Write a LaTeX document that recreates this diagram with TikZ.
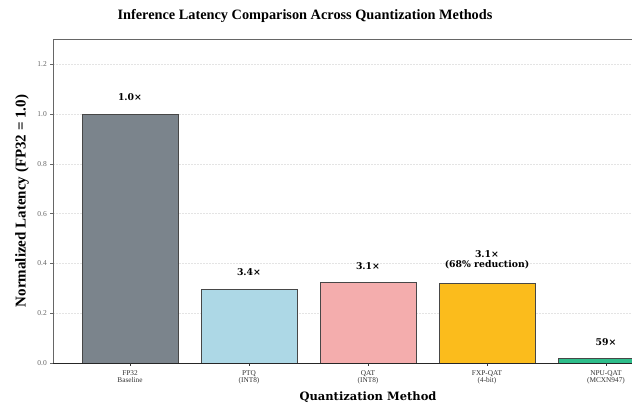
\documentclass[tikz,border=0pt]{standalone}
\usepackage{fontspec}
\setmainfont{Liberation Serif}
\newfontfamily\dvs{DejaVu Serif}
\definecolor{cfp}{HTML}{7B848C}
\definecolor{cptq}{HTML}{ADD8E6}
\definecolor{cqat}{HTML}{F4ADAD}
\definecolor{cfxp}{HTML}{FBBC1C}
\definecolor{cnpu}{HTML}{2EBD8A}
\definecolor{spine}{HTML}{666666}
\definecolor{ticklab}{HTML}{666666}
\definecolor{gridc}{HTML}{E4E4E4}
\tikzset{
  barbox/.style={draw=black!72, line width=0.8pt},
  gridline/.style={draw=gridc, dash pattern=on 1.5pt off 1.5pt, line width=0.5pt},
  ytick/.style={font=\fontsize{7.5}{8}\selectfont, text=ticklab, anchor=east, inner sep=1pt},
  xtick/.style={font=\fontsize{7.3}{7.8}\selectfont, text=black!80, align=center, inner sep=0pt, anchor=north},
  vlab/.style={font=\dvs\bfseries\fontsize{9.3}{10.5}\selectfont, align=center, inner sep=0pt},
}
\begin{document}
\begin{tikzpicture}[x=1pt,y=-1pt]
\useasboundingbox (0,0) rectangle (632,405);
\clip (0,0) rectangle (632,405);
\fill[white] (0,0) rectangle (632,405);
% grid
\foreach \v in {0.2,0.4,0.6,0.8,1.0,1.2}{
  \draw[gridline] (53,{363-249*\v}) -- (632,{363-249*\v});
}
% bars
\draw[barbox, fill=cfp]  (82,{363-249*1.0})   rectangle (178,363);
\draw[barbox, fill=cptq] (201,{363-249*0.294}) rectangle (297,363);
\draw[barbox, fill=cqat] (320,{363-249*0.323}) rectangle (416,363);
\draw[barbox, fill=cfxp] (439,{363-249*0.318}) rectangle (535,363);
\draw[barbox, fill=cnpu] (558,{363-249*0.017}) rectangle (654,363);
% spines
\draw[spine, line width=0.8pt] (53,363) -- (53,39) -- (640,39);
\draw[black!85, line width=0.8pt] (53,363) -- (640,363);
% y ticks
\foreach \v/\t in {0/0.0,0.2/0.2,0.4/0.4,0.6/0.6,0.8/0.8,1.0/1.0,1.2/1.2}{
  \draw[spine, line width=0.6pt] (53,{363-249*\v}) -- (50,{363-249*\v});
  \node[ytick] (yt\t) at (48,{363-249*\v}) {\t};
}
% x ticks
\foreach \i in {0,...,4}{
  \draw[black!80, line width=0.6pt] ({130+119*\i},363) -- ({130+119*\i},366);
}
\node[xtick] (x0) at (130,370) {FP32\\Baseline};
\node[xtick] (x1) at (249,370) {PTQ\\(INT8)};
\node[xtick] (x2) at (368,370) {QAT\\(INT8)};
\node[xtick] (x3) at (487,370) {FXP-QAT\\(4-bit)};
\node[xtick] (x4) at (606,370) {NPU-QAT\\(MCXN947)};
% value labels
\node[vlab] (v0) at (130,97) {1.0×};
\node[vlab] (v1) at (249,272) {3.4×};
\node[vlab] (v2) at (368,266) {3.1×};
\node[vlab] (v3) at (487,260) {3.1×\\(68\% reduction)};
\node[vlab] (v4) at (606,342) {59×};
% axis labels
\node[font=\dvs\bfseries\fontsize{11.5}{13}\selectfont] (xl) at (368,397) {Quantization Method};
\node[font=\bfseries\fontsize{15}{17}\selectfont, rotate=90] (yl) at (22,201) {Normalized Latency (FP32 = 1.0)};
% title
\node[font=\bfseries\fontsize{14.3}{16}\selectfont] (title) at (305,16) {Inference Latency Comparison Across Quantization Methods};
\end{tikzpicture}
\end{document}
